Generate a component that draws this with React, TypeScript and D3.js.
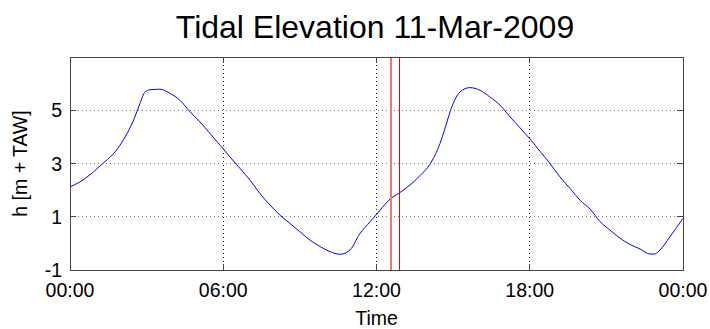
import * as d3 from "d3";
import { useEffect, useRef } from "react";

// hours since midnight
const hours = [
  0, 0.39, 1.17, 1.96, 2.54, 2.74, 2.94, 3.13, 3.52, 3.92, 4.31, 4.7, 5.09, 5.48,
  5.87, 6.26, 6.66, 7.05, 7.44, 7.83, 8.22, 8.61, 9.0, 9.4, 9.79, 10.18, 10.57,
  10.96, 11.35, 11.75, 12.14, 12.53, 12.92, 13.31, 13.7, 14.09, 14.49, 14.68,
  14.88, 15.27, 15.66, 16.05, 16.44, 16.84, 17.23, 17.62, 18.01, 18.4, 18.79,
  19.18, 19.58, 19.97, 20.36, 20.75, 21.14, 21.53, 21.92, 22.32, 22.71, 22.9,
  23.1, 23.49, 24,
];
// water level h [m + TAW]
const levels = [
  2.12, 2.31, 2.9, 3.69, 4.75, 5.26, 5.69, 5.77, 5.79, 5.63, 5.37, 4.94, 4.56,
  4.13, 3.69, 3.25, 2.81, 2.37, 1.87, 1.44, 1.06, 0.75, 0.44, 0.12, -0.12,
  -0.31, -0.41, -0.25, 0.37, 0.81, 1.25, 1.66, 1.91, 2.19, 2.54, 2.97, 3.76,
  4.31, 4.94, 5.69, 5.85, 5.75, 5.5, 5.19, 4.75, 4.34, 3.92, 3.46, 3.0, 2.5,
  2.06, 1.62, 1.29, 0.82, 0.5, 0.2, -0.04, -0.21, -0.4, -0.4, -0.25, 0.25, 0.94,
];
const markers = [12.55, 12.9];
const xTicks = [0, 6, 12, 18, 24];
const xTickLabels = ["00:00", "06:00", "12:00", "18:00", "00:00"];
const yTicks = [-1, 1, 3, 5];

export default function App() {
  const svgRef = useRef<SVGSVGElement | null>(null);
  const width = 710;
  const height = 329;
  const left = 70;
  const right = 683;
  const top = 57;
  const bottom = 270;

  useEffect(() => {
    if (!svgRef.current) return;
    const svg = d3.select(svgRef.current);
    svg.selectAll("*").remove();

    const x = d3.scaleLinear().domain([0, 24]).range([left, right]);
    const y = d3.scaleLinear().domain([-1, 7]).range([bottom, top]);
    const font = "'Liberation Sans', Arial, sans-serif";

    svg.append("rect").attr("width", width).attr("height", height).attr("fill", "#fff");

    // grid
    const grid = svg.append("g").attr("shape-rendering", "crispEdges");
    grid
      .selectAll(".gx")
      .data(xTicks.slice(1, -1))
      .enter()
      .append("line")
      .attr("x1", (d) => x(d))
      .attr("x2", (d) => x(d))
      .attr("y1", top)
      .attr("y2", bottom)
      .attr("stroke", "#222")
      .attr("stroke-dasharray", "1,3");
    grid
      .selectAll(".gy")
      .data(yTicks.slice(1))
      .enter()
      .append("line")
      .attr("x1", left)
      .attr("x2", right)
      .attr("y1", (d) => y(d))
      .attr("y2", (d) => y(d))
      .attr("stroke", "#777")
      .attr("stroke-dasharray", "1,3");

    // tide curve
    const pts = hours.map((h, i) => [h, levels[i]] as [number, number]);
    const line = d3
      .line<[number, number]>()
      .x((d) => x(d[0]))
      .y((d) => y(d[1]))
      .curve(d3.curveMonotoneX);
    svg
      .append("path")
      .attr("d", line(pts))
      .attr("fill", "none")
      .attr("stroke", "#0000ff")
      .attr("stroke-width", 1);

    // time markers
    svg
      .selectAll(".mk")
      .data(markers)
      .enter()
      .append("line")
      .attr("shape-rendering", "crispEdges")
      .attr("x1", (d) => Math.round(x(d)))
      .attr("x2", (d) => Math.round(x(d)))
      .attr("y1", top)
      .attr("y2", bottom)
      .attr("stroke", (d, i) => (i === 0 ? "#ff7070" : "#ff0000"))
      .attr("stroke-width", (d, i) => (i === 0 ? 2 : 1));

    // box and ticks
    const ax = svg.append("g").attr("shape-rendering", "crispEdges").attr("stroke", "#444");
    ax.append("rect")
      .attr("x", left)
      .attr("y", top)
      .attr("width", right - left)
      .attr("height", bottom - top)
      .attr("fill", "none");
    xTicks.forEach((t) => {
      ax.append("line").attr("x1", x(t)).attr("x2", x(t)).attr("y1", bottom).attr("y2", bottom - 6);
      ax.append("line").attr("x1", x(t)).attr("x2", x(t)).attr("y1", top).attr("y2", top + 6);
    });
    yTicks.forEach((t) => {
      ax.append("line").attr("x1", left).attr("x2", left + 6).attr("y1", y(t)).attr("y2", y(t));
      ax.append("line").attr("x1", right).attr("x2", right - 6).attr("y1", y(t)).attr("y2", y(t));
    });

    // tick labels
    svg
      .selectAll(".xl")
      .data(xTicks)
      .enter()
      .append("text")
      .attr("x", (d) => x(d))
      .attr("y", 297)
      .attr("text-anchor", "middle")
      .attr("font-family", font)
      .attr("font-size", 19.5)
      .text((d, i) => xTickLabels[i]);
    svg
      .selectAll(".yl")
      .data(yTicks)
      .enter()
      .append("text")
      .attr("x", 62)
      .attr("y", (d) => y(d) + 7)
      .attr("text-anchor", "end")
      .attr("font-family", font)
      .attr("font-size", 19.5)
      .text((d) => String(d));

    // labels
    svg
      .append("text")
      .attr("x", (left + right) / 2)
      .attr("y", 325)
      .attr("text-anchor", "middle")
      .attr("font-family", font)
      .attr("font-size", 19.5)
      .text("Time");
    svg
      .append("text")
      .attr("transform", `translate(27,${(top + bottom) / 2}) rotate(-90)`)
      .attr("text-anchor", "middle")
      .attr("font-family", font)
      .attr("font-size", 19.5)
      .text("h [m + TAW]");
    svg
      .append("text")
      .attr("x", 375)
      .attr("y", 38)
      .attr("text-anchor", "middle")
      .attr("font-family", font)
      .attr("font-size", 32)
      .text("Tidal Elevation 11-Mar-2009");
  }, [svgRef]);

  return (
    <svg
      ref={svgRef}
      width={width}
      height={height}
      style={{ position: "absolute", left: 0, top: 0, display: "block" }}
    />
  );
}
